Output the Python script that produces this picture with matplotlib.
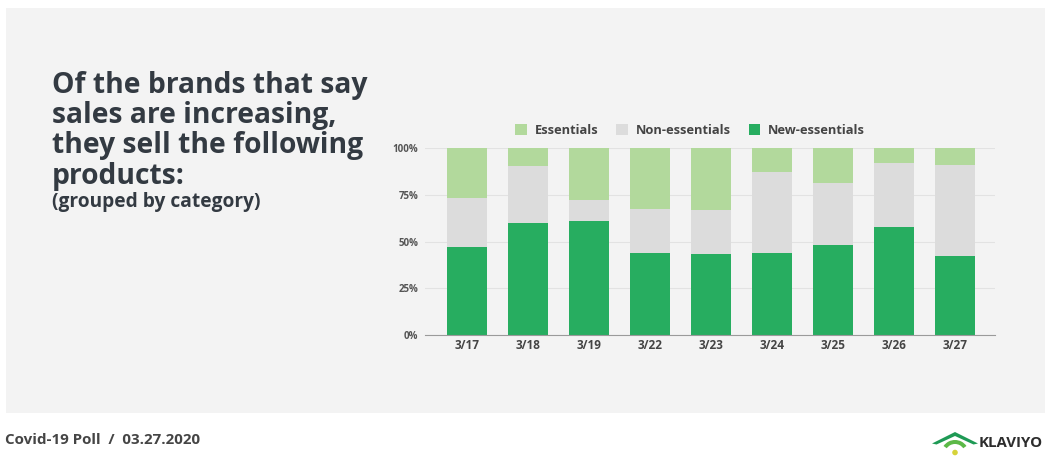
import numpy as np
import matplotlib
matplotlib.use("Agg")
import matplotlib.pyplot as plt
from matplotlib.patches import Rectangle, Polygon, Wedge, Circle

dates = ["3/17", "3/18", "3/19", "3/22", "3/23", "3/24", "3/25", "3/26", "3/27"]
new_essentials = [47.3, 59.8, 61.1, 43.8, 43.4, 43.8, 48.2, 58.0, 42.0]
non_essentials = [25.9, 30.4, 10.9, 23.7, 23.2, 43.3, 33.0, 34.0, 49.0]
essentials = [26.8, 9.8, 28.0, 32.5, 33.4, 12.9, 18.8, 8.0, 9.0]
yticks = [0, 25, 50, 75, 100]
ytick_labels = ["0%", "25%", "50%", "75%", "100%"]

C_NEW = "#27ad60"; C_NON = "#dcdcdc"; C_ESS = "#b2d99c"
TXT = "#333a42"; FONT = ["Open Sans", "DejaVu Sans"]

fig = plt.figure(figsize=(10.45, 4.57), dpi=100)
fig.patch.set_facecolor("white")
fig.patches.append(Rectangle((6/1045, 1-413/457), 1-6/1045, (413-8)/457,
                             transform=fig.transFigure, facecolor="#f3f3f3",
                             edgecolor="none", zorder=-5))

# headline text
heads = ["Of the brands that say", "sales are increasing,", "they sell the following", "products:"]
for i, line in enumerate(heads):
    fig.text(52/1045, 1-(85+30.5*i)/457, line, fontsize=20.3, fontweight="bold",
             color=TXT, va="center", ha="left", family=FONT)
fig.text(52/1045, 1-202/457, "(grouped by category)", fontsize=13.8, fontweight="bold",
         color=TXT, va="center", ha="left", family=FONT)

# chart
ax = fig.add_axes([425/1045, 1-335/457, 570/1045, 187/457])
ax.set_facecolor("none")
x = np.arange(len(dates))
w = 0.66
ax.bar(x, new_essentials, w, color=C_NEW, label="New-essentials", zorder=3)
ax.bar(x, non_essentials, w, bottom=new_essentials, color=C_NON, label="Non-essentials", zorder=3)
bot2 = np.array(new_essentials) + np.array(non_essentials)
ax.bar(x, essentials, w, bottom=bot2, color=C_ESS, label="Essentials", zorder=3)
ax.set_xlim(-0.69, 8.66)
ax.set_ylim(0, 100)
ax.set_yticks(yticks)
ax.set_yticklabels(ytick_labels)
ax.set_xticks(x)
ax.set_xticklabels(dates)
for t in ax.get_yticklabels():
    t.set_fontsize(7); t.set_fontweight("bold"); t.set_color("#555"); t.set_family(FONT)
for t in ax.get_xticklabels():
    t.set_fontsize(8.5); t.set_fontweight("bold"); t.set_color("#444"); t.set_family(FONT)
ax.tick_params(axis="both", length=0)
ax.tick_params(axis="y", pad=5)
ax.tick_params(axis="x", pad=3)
ax.yaxis.grid(True, color="#e2e2e2", linewidth=0.8, zorder=0)
for s in ["top", "right", "left"]:
    ax.spines[s].set_visible(False)
ax.spines["bottom"].set_color("#9a9a9a")
ax.spines["bottom"].set_zorder(4)

h, l = ax.get_legend_handles_labels()
order = [2, 1, 0]
leg = ax.legend([h[i] for i in order], [l[i] for i in order], loc="lower center",
                bbox_to_anchor=(0.465, 0.995), ncol=3, frameon=False, handlelength=0.9,
                handleheight=0.9, handletextpad=0.6, columnspacing=1.4,
                prop={"family": FONT, "weight": "bold", "size": 9.3})
for t in leg.get_texts():
    t.set_color("#444")

# footer
fig.text(5/1045, 1-440/457, "Covid-19 Poll  /  03.27.2020", fontsize=10.9, fontweight="bold",
         color="#454545", va="center", ha="left", family=FONT)

# logo
lax = fig.add_axes([930/1045, 0, 50/1045, 28/457])
lax.set_xlim(0, 50); lax.set_ylim(0, 28); lax.axis("off")
lax.add_patch(Polygon([[2, 13.5], [25, 25], [48, 13.5], [43.5, 12.5], [25, 21], [6.5, 12.5]],
                      closed=True, facecolor="#1f9a55", edgecolor="none"))
lax.add_patch(Wedge((25, 3), 14, 35, 145, width=4, facecolor="#5cb947", edgecolor="none"))
lax.add_patch(Circle((25, 4.5), 2.8, facecolor="#d6d33a", edgecolor="none"))
fig.text(979/1045, 1-443/457, "KLAVIYO", fontsize=10.8, fontweight="bold", color="#2d2d2d",
         va="center", ha="left", family=FONT)

fig.savefig("out.png", dpi=100)
